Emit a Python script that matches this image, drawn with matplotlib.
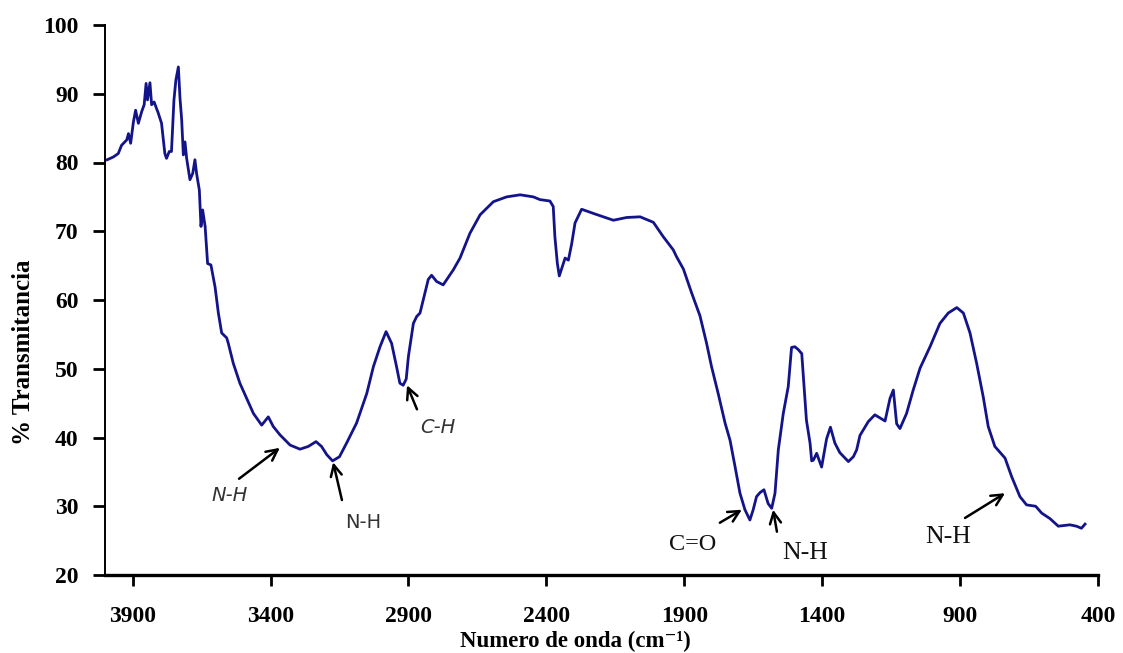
import matplotlib
matplotlib.use("Agg")
import matplotlib.pyplot as plt
from matplotlib.ticker import FixedLocator

# FTIR spectrum: wavenumber (cm-1) and % transmittance
wavenumber = [
    3992, 3970, 3952, 3940, 3921, 3915, 3907, 3897, 3889, 3879, 3867, 3858,
    3851, 3846, 3837, 3831, 3822, 3807, 3795, 3783, 3777, 3767, 3759, 3750,
    3743, 3734, 3728, 3722, 3716, 3710, 3704, 3692, 3682, 3674, 3668, 3658,
    3652, 3646, 3637, 3628, 3616, 3601, 3589, 3577, 3559, 3553, 3535, 3511,
    3492, 3462, 3432, 3408, 3390, 3366, 3329, 3293, 3263, 3235, 3215, 3196,
    3175, 3150, 3124, 3088, 3051, 3027, 3003, 2981, 2961, 2943, 2931, 2919,
    2908, 2900, 2882, 2870, 2858, 2840, 2828, 2816, 2798, 2774, 2737, 2713,
    2677, 2640, 2592, 2544, 2495, 2447, 2423, 2387, 2375, 2369, 2360, 2353,
    2344, 2332, 2320, 2308, 2296, 2272, 2230, 2157, 2109, 2060, 2012, 1976,
    1940, 1928, 1903, 1873, 1843, 1819, 1801, 1777, 1752, 1734, 1716, 1698,
    1680, 1662, 1650, 1638, 1625, 1611, 1596, 1583, 1571, 1559, 1541, 1523,
    1511, 1499, 1487, 1474, 1469, 1457, 1444, 1438, 1432, 1420, 1402, 1384,
    1370, 1354, 1336, 1305, 1287, 1275, 1263, 1233, 1209, 1172, 1154, 1142,
    1130, 1118, 1094, 1070, 1045, 1009, 973, 943, 912, 888, 864, 840,
    816, 798, 774, 737, 713, 683, 659, 626, 604, 574, 544, 502,
    478, 460, 447,
]
transmittance = [
    80.4, 80.8, 81.3, 82.5, 83.3, 84.2, 82.8, 85.9, 87.6, 85.7, 87.4, 88.4,
    91.5, 89.1, 91.6, 88.4, 88.8, 87.2, 85.7, 81.3, 80.6, 81.6, 81.6, 89.1,
    92.0, 93.9, 89.3, 86.2, 81.1, 83.0, 80.6, 77.5, 78.4, 80.4, 78.4, 76.0,
    70.7, 73.1, 70.7, 65.3, 65.1, 61.9, 58.1, 55.2, 54.5, 53.7, 50.8, 47.9,
    46.2, 43.5, 41.8, 43.0, 41.6, 40.4, 38.9, 38.3, 38.7, 39.4, 38.7, 37.5,
    36.6, 37.2, 39.2, 42.1, 46.4, 50.3, 53.2, 55.4, 53.7, 50.3, 47.9, 47.6,
    48.5, 51.8, 56.6, 57.6, 58.1, 61.0, 63.0, 63.6, 62.7, 62.2, 64.4, 66.1,
    69.7, 72.4, 74.3, 75.0, 75.3, 75.0, 74.6, 74.4, 73.6, 69.2, 65.3, 63.5,
    64.6, 66.1, 65.8, 68.2, 71.2, 73.2, 72.6, 71.6, 72.0, 72.1, 71.3, 69.2,
    67.3, 66.3, 64.5, 61.0, 57.7, 53.7, 50.3, 46.4, 42.1, 39.6, 35.8, 31.9,
    29.5, 28.0, 29.5, 31.4, 32.0, 32.4, 30.4, 29.7, 31.9, 38.2, 43.5, 47.4,
    53.1, 53.2, 52.8, 52.2, 49.3, 42.5, 39.2, 36.6, 36.7, 37.7, 35.7, 39.8,
    41.5, 39.2, 37.8, 36.5, 37.2, 38.2, 40.3, 42.3, 43.3, 42.4, 45.7, 46.9,
    42.0, 41.3, 43.5, 46.9, 50.1, 53.2, 56.6, 58.1, 58.9, 58.1, 55.2, 50.8,
    45.9, 41.6, 38.7, 37.0, 34.3, 31.4, 30.2, 30.0, 29.0, 28.2, 27.1, 27.3,
    27.1, 26.8, 27.4,
]

x_ticks = [3900, 3400, 2900, 2400, 1900, 1400, 900, 400]
y_ticks = [20, 30, 40, 50, 60, 70, 80, 90, 100]

# Band assignments: label, text position, arrow tail, arrow head (data units)
band_labels = ["N-H", "N-H", "C-H", "C=O", "N-H", "N-H"]
label_xy = [(3547, 31.6), (3065, 27.6), (2793, 41.5), (1868, 24.4), (1462, 23.2), (944, 25.5)]
tail_xy = [(3514, 34.0), (3141, 30.9), (2869, 44.1), (1771, 27.6), (1564, 26.3), (882, 28.3)]
head_xy = [(3366, 38.5), (3173, 36.4), (2905, 47.6), (1691, 29.5), (1578, 29.5), (737, 31.9)]
label_font = [
    dict(family="DejaVu Sans", style="italic", size=14, color="#333333"),
    dict(family="DejaVu Sans", style="normal", size=14, color="#333333"),
    dict(family="DejaVu Sans", style="italic", size=14, color="#333333"),
    dict(family="Liberation Serif", style="normal", size=17.5, color="#111111"),
    dict(family="Liberation Serif", style="normal", size=18.5, color="#111111"),
    dict(family="Liberation Serif", style="normal", size=18.5, color="#111111"),
]

serif_bold = dict(family=["Liberation Serif", "DejaVu Serif"], weight="bold")

W, H = 1123, 653
fig = plt.figure(figsize=(W / 100, H / 100), dpi=100)
ax = fig.add_axes([105 / W, 1 - 575 / H, (1098 - 105) / W, (575 - 25) / H])

ax.plot(wavenumber, transmittance, color="#14148a", linewidth=2.0)

ax.set_xlim(4000, 400)
ax.set_ylim(20, 100)
ax.xaxis.set_major_locator(FixedLocator(x_ticks))
ax.yaxis.set_major_locator(FixedLocator(y_ticks))

for side in ("top", "right"):
    ax.spines[side].set_visible(False)
ax.spines["bottom"].set_linewidth(2.4)
ax.spines["left"].set_linewidth(1.4)

ax.tick_params(axis="x", direction="out", length=8, width=2, pad=14)
ax.tick_params(axis="y", direction="out", length=9, width=2, pad=10)
for lbl in ax.get_xticklabels() + ax.get_yticklabels():
    lbl.set_fontfamily("Liberation Serif")
    lbl.set_fontweight("bold")
    lbl.set_fontsize(17)

fig.text(575 / W, 1 - 641 / H, "Numero de onda (cm\u207b\u00b9)",
         ha="center", va="center", fontsize=16.5, **serif_bold)
fig.text(24 / W, 1 - 352 / H, "% Transmitancia", rotation=90,
         ha="center", va="center", fontsize=18, **serif_bold)

for text, txy, t0, t1, fnt in zip(band_labels, label_xy, tail_xy, head_xy, label_font):
    ax.text(txy[0], txy[1], text, ha="center", va="center", **fnt)
    ax.annotate("", xy=t1, xytext=t0,
                arrowprops=dict(arrowstyle="->", color="black", lw=1.8,
                                mutation_scale=20, shrinkA=0, shrinkB=0))

fig.savefig("out.png", dpi=100)
